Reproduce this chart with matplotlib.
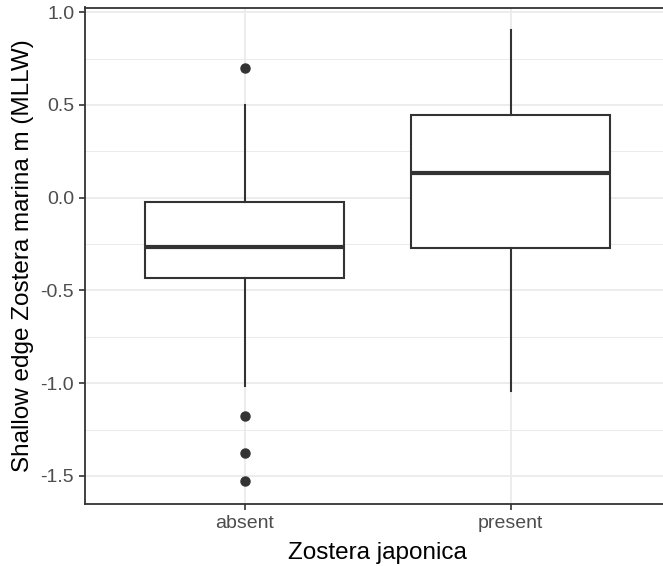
import matplotlib
matplotlib.use("Agg")
import matplotlib.pyplot as plt
from matplotlib.ticker import MultipleLocator

plt.rcParams['font.family'] = ['Liberation Sans', 'DejaVu Sans']

# Five-number summaries and outliers per group
groups = ["absent", "present"]
whisker_low = [-1.017, -1.044]
q1 = [-0.431, -0.269]
median = [-0.267, 0.135]
q3 = [-0.021, 0.445]
whisker_high = [0.499, 0.903]
outliers = [[0.698, -1.178, -1.377, -1.528], []]

stats = []
for i, g in enumerate(groups):
    stats.append(dict(label=g, whislo=whisker_low[i], q1=q1[i], med=median[i],
                      q3=q3[i], whishi=whisker_high[i], fliers=outliers[i]))

fig = plt.figure(figsize=(6.63, 5.66), dpi=100)
W, H = 663, 566
left, right, top, bottom = 85.3, 670.0, 7.5, 503.7
ax = fig.add_axes([left / W, 1 - bottom / H, (right - left) / W, (bottom - top) / H])

dark = "#333333"
ax.bxp(stats, positions=[1, 2], widths=0.75, patch_artist=True, showcaps=False,
       boxprops=dict(facecolor="white", edgecolor=dark, linewidth=1.5),
       medianprops=dict(color=dark, linewidth=3.0, solid_capstyle="butt"),
       whiskerprops=dict(color=dark, linewidth=1.5),
       flierprops=dict(marker="o", markerfacecolor=dark, markeredgecolor=dark,
                       markersize=6.5, linestyle="none"),
       zorder=3)

ax.set_xlim(0.4, 2.6)
ax.set_ylim(-1.650, 1.025)
ax.yaxis.set_major_locator(MultipleLocator(0.5))
ax.yaxis.set_minor_locator(MultipleLocator(0.25))
ax.set_xticks([1, 2])
ax.set_xticklabels(groups)
ax.set_yticklabels([f"{v:.1f}" for v in ax.get_yticks()])

ax.grid(True, which="major", color="#EBEBEB", linewidth=1.3, zorder=0)
ax.grid(True, which="minor", axis="y", color="#EBEBEB", linewidth=0.7, zorder=0)
ax.set_axisbelow(True)

for s in ax.spines.values():
    s.set_color(dark)
    s.set_linewidth(1.3)

ax.tick_params(axis="both", which="major", length=4, width=1.2, color=dark,
               labelcolor="#4D4D4D", labelsize=14, pad=4)
ax.tick_params(axis="both", which="minor", length=0)

ax.set_xlabel("Zostera japonica", fontsize=17.5, color="black", labelpad=7)
ax.set_ylabel("Shallow edge Zostera marina m (MLLW)", fontsize=17.5, color="black", labelpad=5)

fig.savefig("out.png", dpi=100)
